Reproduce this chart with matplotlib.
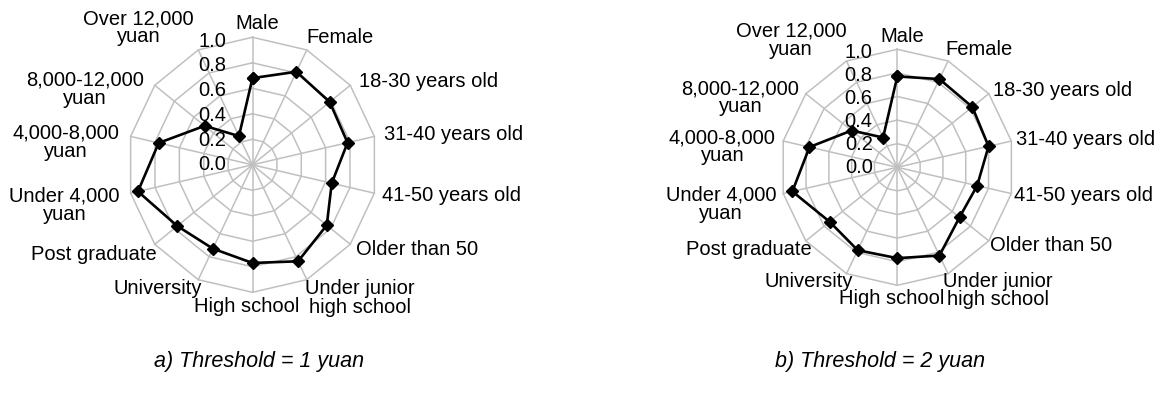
import matplotlib
matplotlib.use("Agg")
import matplotlib.pyplot as plt
import numpy as np

categories = ["Male", "Female", "18-30 years old", "31-40 years old",
              "41-50 years old", "Older than 50", "Under junior\nhigh school",
              "High school", "University", "Post graduate", "Under 4,000\nyuan",
              "4,000-8,000\nyuan", "8,000-12,000\nyuan", "Over 12,000\nyuan"]
threshold_1 = [0.68, 0.81, 0.79, 0.78, 0.65, 0.76, 0.84, 0.77, 0.73, 0.77,
               0.94, 0.77, 0.49, 0.25]
threshold_2 = [0.77, 0.83, 0.82, 0.80, 0.70, 0.68, 0.83, 0.77, 0.78, 0.74,
               0.92, 0.77, 0.50, 0.28]
ring_ticks = [0.0, 0.2, 0.4, 0.6, 0.8, 1.0]
captions = ["a) Threshold = 1 yuan", "b) Threshold = 2 yuan"]

# centres of the category labels, in units of the outer ring radius
label_xy = [(0.04, 1.11), (0.70, 1.00), (1.41, 0.655), (1.605, 0.237),
            (1.59, -0.24), (1.315, -0.665), (0.86, -1.045), (-0.05, -1.115),
            (-0.76, -0.97), (-1.27, -0.70), (-1.505, -0.315), (-1.495, 0.175),
            (-1.34, 0.59), (-0.91, 1.075)]

plt.rcParams["font.family"] = ["Liberation Sans", "DejaVu Sans"]

W, H = 1164, 394
fig = plt.figure(figsize=(W / 100, H / 100), dpi=100)

# centre (px from top-left) and radius (px) of each web
webs = [((252.5, 164.8), (125, 127.5)), ((897.3, 167.3), (117, 118))]
LIM = 1.3
GRID = "#c0c0c0"


def closed(a):
    return np.r_[a, a[:1]]


def radar(ax, values):
    n = len(categories)
    ang = np.arange(n) * 2 * np.pi / n
    s, c = np.sin(ang), np.cos(ang)
    for lv in ring_ticks[1:]:
        ax.plot(closed(lv * s), closed(lv * c), color=GRID, lw=1.1, zorder=1)
    for i in range(n):
        ax.plot([0, s[i]], [0, c[i]], color=GRID, lw=1.1, zorder=1)
    v = np.array(values)
    ax.plot(closed(v * s), closed(v * c), color="black", lw=1.9,
            marker="D", ms=6, zorder=3)
    for lv in ring_ticks:
        ax.text(-0.21, lv * 0.97, f"{lv:.1f}", ha="right", va="center",
                fontsize=14.5, zorder=4)
    for lab, (x, y) in zip(categories, label_xy):
        ax.text(x, y, lab, ha="center", va="center", multialignment="center",
                fontsize=14.5, linespacing=0.95, clip_on=False)
    ax.set_xlim(-LIM, LIM)
    ax.set_ylim(-LIM, LIM)
    ax.axis("off")


for ((cx, cy), (rx, ry)), vals in zip(webs, [threshold_1, threshold_2]):
    ax = fig.add_axes([(cx - LIM * rx) / W, (H - cy - LIM * ry) / H,
                       2 * LIM * rx / W, 2 * LIM * ry / H])
    radar(ax, vals)

for cap, x in zip(captions, [259, 880]):
    fig.text(x / W, 1 - 362 / H, cap, ha="center", va="center",
             fontsize=15.5, style="italic")

fig.savefig("out.png", dpi=100, facecolor="white")
